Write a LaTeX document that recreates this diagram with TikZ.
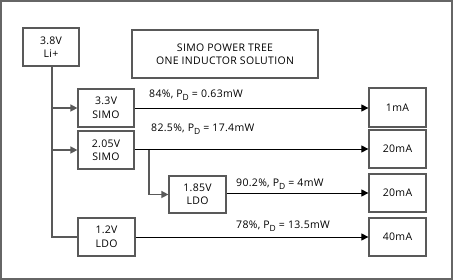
\documentclass[tikz,border=0pt]{standalone}
\usepackage{fontspec}
\setmainfont[LetterSpace=3]{Open Sans}
\usetikzlibrary{arrows.meta}
\newcommand{\subD}{\raisebox{-2.2pt}{\fontsize{8.5}{9}\selectfont D}}
\begin{document}
\begin{tikzpicture}[x=1pt,y=-1pt,
  box/.style={draw=black!65,line width=1.2pt,inner sep=0pt,font=\fontsize{10.5}{13.5}\selectfont,align=center},
  feed/.style={draw=black!65,line width=1.4pt},
  outl/.style={draw=black,line width=0.8pt},
  tip/.style={-{Triangle[length=7pt,width=7pt]}},
  lbl/.style={font=\fontsize{10.5}{13}\selectfont,anchor=base west,inner sep=0pt}]
\useasboundingbox (0,0) rectangle (453,280);
\draw[draw=black!60,line width=2pt] (1,1) rectangle (452,279);
\node[box,minimum width=56pt,minimum height=38pt] (li) at (51,47) {3.8V\\Li+};
\node[box,minimum width=186pt,minimum height=48pt] (title) at (225,54) {SIMO POWER TREE\\ONE INDUCTOR SOLUTION};
\node[box,minimum width=56pt,minimum height=38pt] (s33) at (106,108) {3.3V\\SIMO};
\node[box,minimum width=56pt,minimum height=38pt] (s205) at (106,150) {2.05V\\SIMO};
\node[box,minimum width=57pt,minimum height=37pt] (l185) at (197.5,194.5) {1.85V\\LDO};
\node[box,minimum width=57pt,minimum height=38pt] (l12) at (106.5,237) {1.2V\\LDO};
\node[box,minimum width=57pt,minimum height=39pt] (o1) at (397.5,107.5) {1mA};
\node[box,minimum width=57pt,minimum height=38pt] (o2) at (397.5,149) {20mA};
\node[box,minimum width=57pt,minimum height=38pt] (o3) at (397.5,193) {20mA};
\node[box,minimum width=57pt,minimum height=38pt] (o4) at (397.5,237) {40mA};
\coordinate (tr) at (52,237);
\coordinate (br) at (149,149);
% feed lines
\draw[feed] (li.south -| tr) -- (tr) -- (l12.west);
\draw[feed,tip] (tr |- s33.west) -- (s33.west);
\draw[feed,tip] (tr |- s205.west) -- (s205.west);
\draw[feed,tip] (br) |- (l185.west);
% outputs
\draw[outl,tip] (s33.east) -- (o1.west |- s33.east);
\draw[outl,tip] (s205.east |- o2.west) -- (o2.west);
\draw[outl,tip] (l185.east |- o3.west) -- (o3.west);
\draw[outl,tip] (l12.east) -- (o4.west |- l12.east);
% labels
\node[lbl] (t1) at (149,98) {84\%, P\subD{} = 0.63mW};
\node[lbl] (t2) at (151,132) {82.5\%, P\subD{} = 17.4mW};
\node[lbl] (t3) at (236,187) {90.2\%, P\subD{} = 4mW};
\node[lbl] (t4) at (236,229) {78\%, P\subD{} = 13.5mW};
\end{tikzpicture}
\end{document}
